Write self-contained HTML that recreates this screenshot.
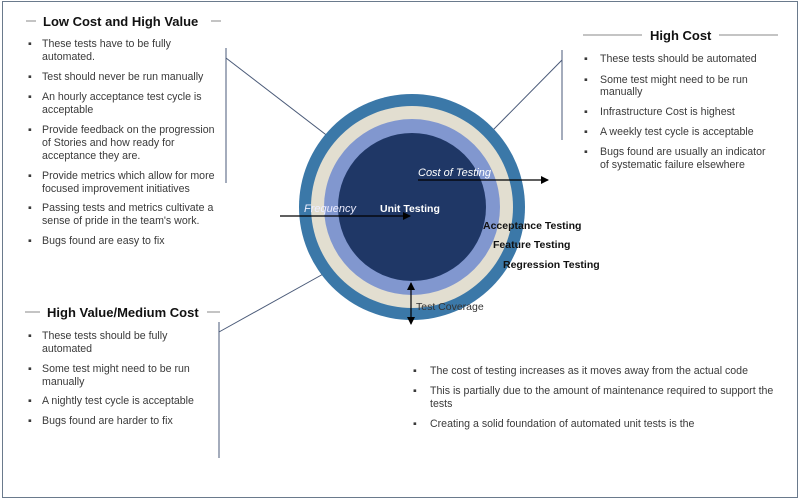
<!DOCTYPE html>
<html><head><style>
html,body{margin:0;padding:0;background:#fff;}
svg{display:block;font-family:"Liberation Sans",Arial,sans-serif;}
.b{font-size:10.6px;fill:#3a3a3a;}
.h{font-size:13px;font-weight:bold;fill:#111;}
</style></head><body>
<svg width="800" height="500" viewBox="0 0 800 500">
<rect x="2.5" y="1.5" width="795" height="496" fill="#fff" stroke="#6a7a8c" stroke-width="1"/>
<defs><marker id="ar" markerWidth="8" markerHeight="8" refX="7" refY="4" orient="auto" markerUnits="userSpaceOnUse"><path d="M0,0 L8,4 L0,8 z" fill="#000"/></marker></defs>
<g stroke="#4a5a78" stroke-width="1" fill="none">
<line x1="226" y1="48" x2="226" y2="183"/>
<line x1="226" y1="58" x2="355" y2="157"/>
<line x1="562" y1="50" x2="562" y2="140"/>
<line x1="562" y1="60" x2="493" y2="130"/>
<line x1="219" y1="322" x2="219" y2="458"/>
<line x1="219" y1="332" x2="334" y2="268"/>
</g>
<circle cx="412" cy="207" r="113" fill="#3b78a8"/>
<circle cx="412" cy="207" r="101" fill="#e2ded0"/>
<circle cx="412" cy="207" r="88" fill="#8197cf"/>
<circle cx="412" cy="207" r="74" fill="#1f3766"/>
<g stroke="#000" stroke-width="1.2">
<line x1="418" y1="180" x2="548" y2="180" marker-end="url(#ar)"/>
<line x1="280" y1="216" x2="410" y2="216" marker-end="url(#ar)"/>
<line x1="411" y1="300" x2="411" y2="283" marker-end="url(#ar)"/>
<line x1="411" y1="300" x2="411" y2="324" marker-end="url(#ar)"/>
</g>
<g font-size="11">
<text x="418" y="176" fill="#fff" font-style="italic">Cost of Testing</text>
<text x="304" y="212" fill="#eef" font-style="italic">Frequency</text>
<text x="380" y="212" fill="#fff" font-weight="bold" font-size="10.5">Unit Testing</text>
<text x="483" y="229" fill="#111" font-weight="bold" font-size="10.5">Acceptance Testing</text>
<text x="493" y="248" fill="#111" font-weight="bold" font-size="10.5">Feature Testing</text>
<text x="503" y="268" fill="#111" font-weight="bold" font-size="10.5">Regression Testing</text>
<text x="416" y="310" fill="#333" font-size="10.5">Test Coverage</text>
</g>
<g stroke="#888" stroke-width="1">
<line x1="26" y1="21" x2="36" y2="21"/><line x1="211" y1="21" x2="221" y2="21"/>
<line x1="583" y1="35" x2="642" y2="35"/><line x1="719" y1="35" x2="778" y2="35"/>
<line x1="25" y1="312" x2="40" y2="312"/><line x1="207" y1="312" x2="220" y2="312"/>
</g>
<text class="h" x="43" y="26">Low Cost and High Value</text>
<text class="h" x="650" y="40">High Cost</text>
<text class="h" x="47" y="317">High Value/Medium Cost</text>
<g class="b">
<text x="28" y="47">▪</text><text x="42" y="47">These tests have to be fully</text><text x="42" y="60">automated.</text>
<text x="28" y="80">▪</text><text x="42" y="80">Test should never be run manually</text>
<text x="28" y="100">▪</text><text x="42" y="100">An hourly acceptance test cycle is</text><text x="42" y="113">acceptable</text>
<text x="28" y="133">▪</text><text x="42" y="133">Provide feedback on the progression</text><text x="42" y="146">of Stories and how ready for</text><text x="42" y="159">acceptance they are.</text>
<text x="28" y="179">▪</text><text x="42" y="179">Provide metrics which allow for more</text><text x="42" y="192">focused improvement initiatives</text>
<text x="28" y="211">▪</text><text x="42" y="211">Passing tests and metrics cultivate a</text><text x="42" y="224">sense of pride in the team's work.</text>
<text x="28" y="244">▪</text><text x="42" y="244">Bugs found are easy to fix</text>
</g>
<g class="b">
<text x="584" y="62">▪</text><text x="600" y="62">These tests should be automated</text>
<text x="584" y="83">▪</text><text x="600" y="83">Some test might need to be run</text><text x="600" y="95">manually</text>
<text x="584" y="115">▪</text><text x="600" y="115">Infrastructure Cost is highest</text>
<text x="584" y="135">▪</text><text x="600" y="135">A weekly test cycle is acceptable</text>
<text x="584" y="155">▪</text><text x="600" y="155">Bugs found are usually an indicator</text><text x="600" y="168">of systematic failure elsewhere</text>
</g>
<g class="b">
<text x="28" y="339">▪</text><text x="42" y="339">These tests should be fully</text><text x="42" y="352">automated</text>
<text x="28" y="372">▪</text><text x="42" y="372">Some test might need to be run</text><text x="42" y="385">manually</text>
<text x="28" y="404">▪</text><text x="42" y="404">A nightly test cycle is acceptable</text>
<text x="28" y="424">▪</text><text x="42" y="424">Bugs found are harder to fix</text>
</g>
<g class="b">
<text x="413" y="374">▪</text><text x="430" y="374">The cost of testing increases as it moves away from the actual code</text>
<text x="413" y="394">▪</text><text x="430" y="394">This is partially due to the amount of maintenance required to support the</text><text x="430" y="407">tests</text>
<text x="413" y="427">▪</text><text x="430" y="427">Creating a solid foundation of automated unit tests is the</text>
</g>
</svg>
</body></html>
